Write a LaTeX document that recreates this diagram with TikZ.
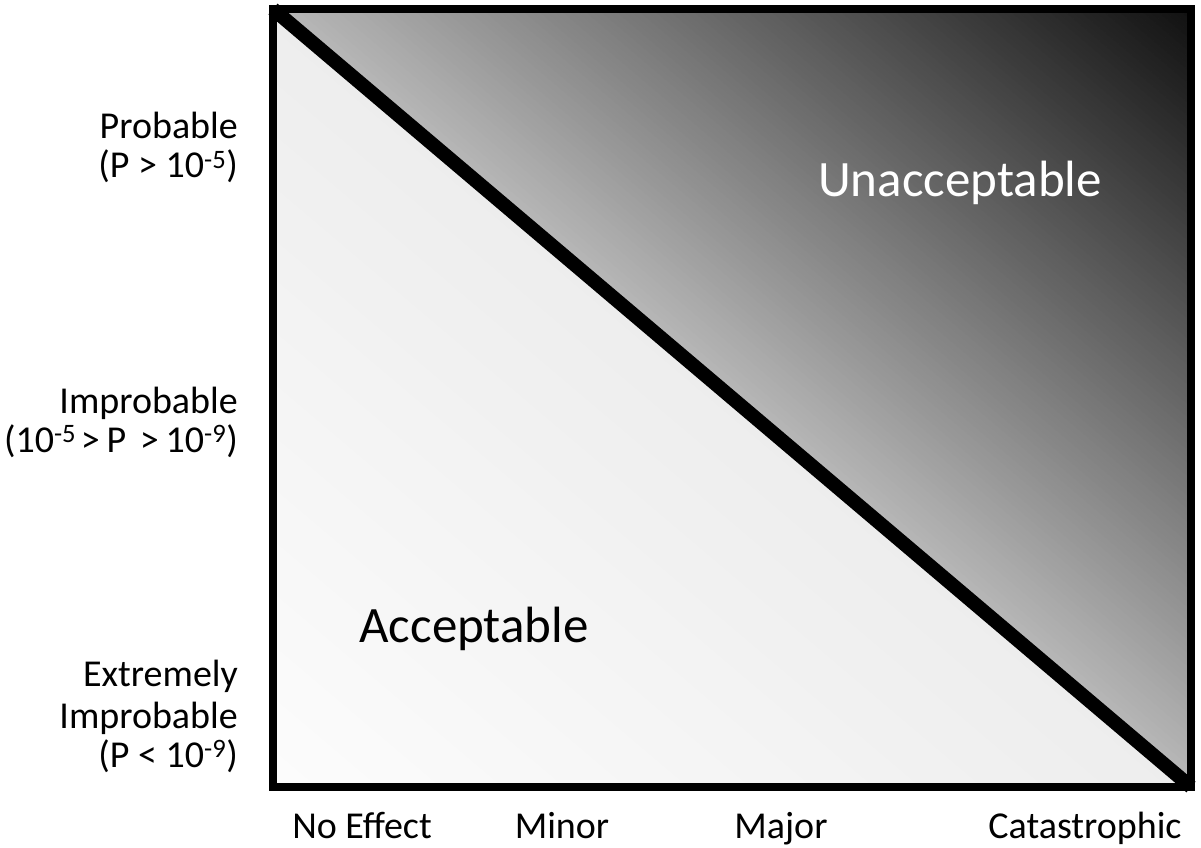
\documentclass[tikz,border=0pt]{standalone}
\usepackage{fontspec}
\setmainfont{Carlito}
\begin{document}
\begin{tikzpicture}[x=1pt,y=1pt,
  lbl/.style={font=\fontsize{38}{42}\selectfont, inner sep=0pt},
  big/.style={font=\fontsize{51}{60}\selectfont, inner sep=0pt},
  frame/.style={line width=8pt},
  divider/.style={line width=14pt}]
\useasboundingbox (0,0) rectangle (1201,847);
\fill[white] (0,0) rectangle (1201,847);
\coordinate (tl) at (273,838);
\coordinate (tr) at (1191,838);
\coordinate (br) at (1191,60);
\coordinate (bl) at (273,60);
% unacceptable region gradient
\begin{scope}
\clip (tl) -- (tr) -- (br) -- cycle;
\begin{scope}[shift={(732,449)}, rotate=-40.28]
\foreach \i in {0,...,119} {
  \pgfmathsetmacro\c{28+66*\i/119}
  \fill[black!\c] (-700,{\i*5}) rectangle (700,{\i*5+5.6});
}
\end{scope}
\end{scope}
% acceptable region gradient
\begin{scope}
\clip (tl) -- (bl) -- (br) -- cycle;
\begin{scope}[shift={(732,449)}, rotate=-40.28]
\foreach \i in {0,...,119} {
  \pgfmathsetmacro\c{7-6*\i/119}
  \fill[black!\c] (-700,{-\i*5}) rectangle (700,{-\i*5-5.6});
}
\end{scope}
\end{scope}
\draw[frame] (tl) rectangle (br);
\draw[divider] (tl) -- (br);
% left labels
\node[lbl, anchor=base east] (p1) at (238,708) {Probable};
\node[lbl, anchor=base east] (p2) at (238,669) {(P > 10\textsuperscript{-5})};
\node[lbl, anchor=base east] (i1) at (238,434) {Improbable};
\node[lbl, anchor=base east] (i2) at (238,395) {(10\textsuperscript{-5}\hspace{0.12em}>\hspace{0.18em}P\hspace{0.36em}>\hspace{0.18em}10\textsuperscript{-9})};
\node[lbl, anchor=base east] (e1) at (238,161) {Extremely};
\node[lbl, anchor=base east] (e2) at (238,119) {Improbable};
\node[lbl, anchor=base east] (e3) at (238,80) {(P < 10\textsuperscript{-9})};
% bottom labels
\node[lbl, anchor=base] (s1) at (362,9) {No Effect};
\node[lbl, anchor=base] (s2) at (562,9) {Minor};
\node[lbl, anchor=base] (s3) at (781,9) {Major};
\node[lbl, anchor=base] (s4) at (1085,9) {Catastrophic};
% region labels
\node[big, anchor=base] (acc) at (474,205) {Acceptable};
\node[big, anchor=base, text=white] (unacc) at (960,650) {Unacceptable};
\end{tikzpicture}
\end{document}
